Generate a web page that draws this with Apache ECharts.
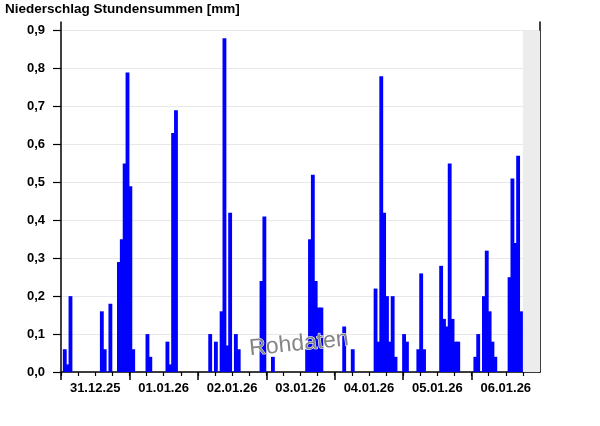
<!DOCTYPE html>
<html>
<head>
<meta charset="utf-8">
<script src="https://cdn.jsdelivr.net/npm/echarts@6.0.0/dist/echarts.min.js"></script>
<style>
html,body{margin:0;padding:0;background:#fff;}
#chart{width:600px;height:426px;}
</style>
</head>
<body>
<div id="chart"></div>
<script>
// ---- data (hourly precipitation sums in mm, hour 0 = 31.12.25 00:00) ----
const dateLabels = ['31.12.25', '01.01.26', '02.01.26', '03.01.26', '04.01.26', '05.01.26', '06.01.26'];
const yTickValues = [0, 0.1, 0.2, 0.3, 0.4, 0.5, 0.6, 0.7, 0.8, 0.9];
const yTickLabels = ['0,0', '0,1', '0,2', '0,3', '0,4', '0,5', '0,6', '0,7', '0,8', '0,9'];
const sixHourTicks = [0,6,12,18,24,30,36,42,48,54,60,66,72,78,84,90,96,102,108,114,120,126,132,138,144,150,156,162];
const midnightTicks = [0, 24, 48, 72, 96, 120, 144];
const noonTicks = [12, 36, 60, 84, 108, 132, 156];
const futureStart = 162;
const futureEnd = 168;

const day31_12 = [0,0.06,0.02,0.20, 0,0,0,0,0,0,0,0,0,0, 0.16,0.06,0,0.18, 0,0,0.29,0.35,0.55,0.79];
const day01_01 = [0.49,0.06,0,0,0,0, 0.10,0.04,0,0,0,0,0, 0.08,0.02,0.63,0.69, 0,0,0,0,0,0,0];
const day02_01 = [0,0,0,0, 0.10,0, 0.08,0, 0.16,0.88,0.07,0.42, 0,0.10,0.06, 0,0,0,0,0,0,0, 0.24,0.41];
const day03_01 = [0,0,0.04, 0,0,0,0,0,0,0,0,0,0,0, 0.06,0.35,0.52,0.24,0.17,0.17, 0,0,0,0];
const day04_01 = [0,0,0,0.12, 0,0,0.06, 0,0,0,0,0,0,0, 0.22,0.08,0.78,0.42,0.20,0.08,0.20,0.04, 0,0];
const day05_01 = [0.10,0.08, 0,0,0, 0.06,0.26,0.06, 0,0,0,0,0, 0.28,0.14,0.12,0.55,0.14,0.08,0.08, 0,0,0,0];
const day06_01 = [0,0.04,0.10,0, 0.20,0.32,0.16,0.08,0.04, 0,0,0,0, 0.25,0.51,0.34,0.57,0.16, null,null,null,null,null,null];

const days = [day31_12, day01_01, day02_01, day03_01, day04_01, day05_01, day06_01];
const barData = [];
days.forEach(function (arr, d) {
  arr.forEach(function (v, i) {
    if (v !== null && v > 0) barData.push([d * 24 + i, v]);
  });
});

const FONT = '"Liberation Sans", Arial, sans-serif';
const chart = echarts.init(document.getElementById('chart'), null, {renderer: 'canvas'});
chart.setOption({
  animation: false,
  backgroundColor: '#ffffff',
  title: {
    text: 'Niederschlag Stundensummen [mm]',
    left: 5, top: 2, padding: 0,
    textStyle: {fontFamily: FONT, fontSize: 13.5, fontWeight: 'bold', color: '#000'}
  },
  grid: {left: 61, right: 60, top: 22, bottom: 54, containLabel: false},
  xAxis: [{
    type: 'value', min: 0, max: 168, position: 'bottom',
    axisLine: {show: true, onZero: false, lineStyle: {color: '#000', width: 1.5}},
    axisTick: {show: true, customValues: sixHourTicks, length: 4, lineStyle: {color: '#000', width: 1.2}},
    axisLabel: {
      show: true, customValues: noonTicks, margin: 10,
      fontFamily: FONT, fontSize: 13, fontWeight: 'bold', color: '#000',
      formatter: function (v) { return dateLabels[Math.round((v - 12) / 24)] || ''; }
    },
    splitLine: {show: false}
  }, {
    type: 'value', min: 0, max: 168, position: 'bottom',
    axisLine: {show: false, onZero: false},
    axisTick: {show: true, customValues: midnightTicks, length: 8, lineStyle: {color: '#000', width: 1.5}},
    axisLabel: {show: false},
    splitLine: {show: false}
  }],
  yAxis: [{
    type: 'value', min: 0, max: 0.923, position: 'left',
    axisLine: {show: true, onZero: false, lineStyle: {color: '#000', width: 1.5}},
    axisTick: {show: true, customValues: yTickValues, length: 8, lineStyle: {color: '#000', width: 1.2}},
    axisLabel: {
      show: true, customValues: yTickValues, margin: 16,
      fontFamily: FONT, fontSize: 13, fontWeight: 'bold', color: '#000',
      formatter: function (v) { return yTickLabels[Math.round(v * 10)]; }
    },
    splitLine: {show: true, lineStyle: {color: '#e8e8e8', width: 1}}
  }, {
    type: 'value', min: 0, max: 0.923, position: 'right',
    axisLine: {show: true, onZero: false, lineStyle: {color: '#000', width: 1.5}},
    axisTick: {show: false}, axisLabel: {show: false}, splitLine: {show: false}
  }],
  series: [{
    type: 'custom',
    xAxisIndex: 0, yAxisIndex: 0,
    encode: {x: 0, y: 1},
    data: barData,
    renderItem: function (params, api) {
      const h = api.value(0), v = api.value(1);
      const p0 = api.coord([h, 0]);
      const p1 = api.coord([h + 1, v]);
      return {
        type: 'rect',
        shape: {x: p0[0] - 1, y: p1[1], width: p1[0] - p0[0] + 1, height: p0[1] - p1[1]},
        style: {fill: '#0000ff'}
      };
    },
    markArea: {
      silent: true,
      itemStyle: {color: '#ececec'},
      data: [[{xAxis: futureStart, yAxis: 0}, {xAxis: futureEnd, yAxis: 0.9}]]
    },
    z: 2
  }],
  graphic: [{
    type: 'text',
    x: 299, y: 344,
    rotation: 0.1,
    z: 100,
    style: {
      text: 'Rohdaten',
      fontFamily: FONT, fontSize: 23,
      fill: '#858585', stroke: '#ffffff', lineWidth: 1,
      align: 'center', verticalAlign: 'middle'
    }
  }]
});
</script>
</body>
</html>
